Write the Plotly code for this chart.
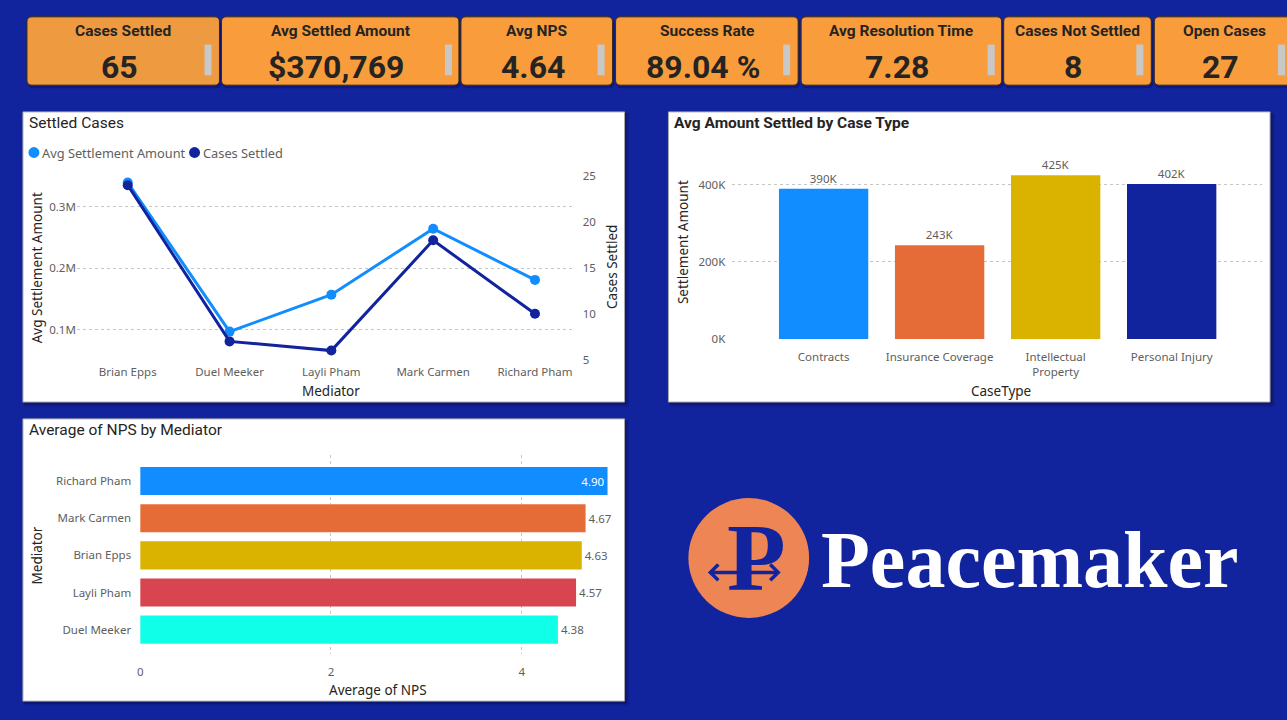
import plotly.graph_objects as go

# ---------------- data ----------------
kpi_titles = ["Cases Settled", "Avg Settled Amount", "Avg NPS", "Success Rate",
              "Avg Resolution Time", "Cases Not Settled", "Open Cases"]
kpi_values = ["65", "$370,769", "4.64", "89.04 %", "7.28", "8", "27"]

mediators = ["Brian Epps", "Duel Meeker", "Layli Pham", "Mark Carmen", "Richard Pham"]
avg_settlement = [339000, 97000, 157000, 264000, 181000]
cases_settled = [24, 7, 6, 18, 10]
left_tick_vals = [100000, 200000, 300000]
left_tick_text = ["0.1M", "0.2M", "0.3M"]
right_tick_vals = [5, 10, 15, 20, 25]

case_types = ["Contracts", "Insurance Coverage", "Intellectual Property", "Personal Injury"]
case_type_labels = ["Contracts", "Insurance Coverage", "Intellectual<br>Property", "Personal Injury"]
avg_amount = [390000, 243000, 425000, 402000]
amount_labels = ["390K", "243K", "425K", "402K"]
amount_tick_vals = [0, 200000, 400000]
amount_tick_text = ["0K", "200K", "400K"]

nps_mediators = ["Richard Pham", "Mark Carmen", "Brian Epps", "Layli Pham", "Duel Meeker"]
nps_values = [4.90, 4.67, 4.63, 4.57, 4.38]
nps_tick_vals = [0, 2, 4]

# ---------------- geometry helpers ----------------
W, H = 1287, 720
def X(px): return px / W
def Y(py): return 1 - py / H

BG = "#12239E"
LIGHT = "#118DFF"
DARK = "#12239E"
TICK = "#605E5C"
TXT = "#252423"
GRID = "#C8C6C4"
TFONT = "Noto Sans, Open Sans, sans-serif"
HFONT = "Roboto, sans-serif"

def rrect(x0, y0, x1, y1, r):
    return (f"M {X(x0+r)},{Y(y0)} L {X(x1-r)},{Y(y0)} Q {X(x1)},{Y(y0)} {X(x1)},{Y(y0+r)} "
            f"L {X(x1)},{Y(y1-r)} Q {X(x1)},{Y(y1)} {X(x1-r)},{Y(y1)} "
            f"L {X(x0+r)},{Y(y1)} Q {X(x0)},{Y(y1)} {X(x0)},{Y(y1-r)} "
            f"L {X(x0)},{Y(y0+r)} Q {X(x0)},{Y(y0)} {X(x0+r)},{Y(y0)} Z")

fig = go.Figure()

# ---------------- line chart ----------------
fig.add_trace(go.Scatter(x=mediators, y=avg_settlement, mode="lines+markers",
                         line=dict(color=LIGHT, width=3), marker=dict(size=10, color=LIGHT),
                         xaxis="x", yaxis="y", showlegend=False))
fig.add_trace(go.Scatter(x=mediators, y=cases_settled, mode="lines+markers",
                         line=dict(color=DARK, width=3), marker=dict(size=10, color=DARK),
                         xaxis="x", yaxis="y2", showlegend=False))

# ---------------- column chart ----------------
fig.add_trace(go.Bar(x=case_types, y=avg_amount, text=amount_labels, textposition="outside",
                     textfont=dict(family=TFONT, size=11.5, color=TICK),
                     marker=dict(color=[LIGHT, "#E66C37", "#D9B300", DARK], line=dict(width=0)),
                     width=0.77, cliponaxis=False, xaxis="x2", yaxis="y3", showlegend=False))

# ---------------- NPS bar chart ----------------
nps_text = [f"{v:.2f}" for v in nps_values]
fig.add_trace(go.Bar(y=nps_mediators, x=nps_values, orientation="h", text=nps_text,
                     textposition=["inside", "outside", "outside", "outside", "outside"],
                     insidetextanchor="end",
                     insidetextfont=dict(family=TFONT, size=11.5, color="white"),
                     outsidetextfont=dict(family=TFONT, size=11.5, color=TICK),
                     marker=dict(color=[LIGHT, "#E66C37", "#D9B300", "#D64550", "#10FFE8"],
                                 line=dict(width=0)),
                     width=0.755, cliponaxis=False, xaxis="x3", yaxis="y4", showlegend=False))

tickfont = dict(family=TFONT, size=11.5, color=TICK)

fig.update_layout(
    width=W, height=H, margin=dict(l=0, r=0, t=0, b=0),
    paper_bgcolor=BG, plot_bgcolor="rgba(0,0,0,0)",
    xaxis=dict(domain=[X(74), X(572)], anchor="y", range=[-0.5, 4.38],
               showgrid=False, zeroline=False, showline=False, ticks="",
               tickfont=tickfont, ticklabelstandoff=-1),
    yaxis=dict(domain=[Y(368), Y(165)], anchor="x", range=[43730, 370100],
               tickvals=left_tick_vals, ticktext=left_tick_text,
               showgrid=True, gridcolor=GRID, griddash="dot", gridwidth=1,
               zeroline=False, showline=False, ticks="", tickfont=tickfont),
    yaxis2=dict(overlaying="y", side="right", anchor="x", range=[4.4935, 26.37],
                tickvals=right_tick_vals, showgrid=False, zeroline=False, showline=False,
                ticks="", tickfont=tickfont, ticklabelstandoff=8),
    xaxis2=dict(domain=[X(731), X(1262)], anchor="y3", range=[-0.787, 3.779],
                tickvals=case_types, ticktext=case_type_labels,
                showgrid=False, zeroline=False, showline=False, ticks="",
                tickfont=tickfont, ticklabelstandoff=10),
    yaxis3=dict(domain=[Y(342.3), Y(150)], anchor="x2", range=[0, 494300],
                tickvals=amount_tick_vals, ticktext=amount_tick_text,
                showgrid=True, gridcolor=GRID, griddash="dot", gridwidth=1,
                zeroline=False, showline=False, ticks="", tickfont=tickfont,
                ticklabelstandoff=6),
    xaxis3=dict(domain=[X(137.5), X(615.5)], anchor="y4", range=[0, 5.0],
                tickvals=nps_tick_vals, showgrid=True, gridcolor=GRID, griddash="dot",
                zeroline=False, showline=False, ticks="", tickfont=tickfont,
                ticklabelstandoff=10),
    yaxis4=dict(domain=[Y(660), Y(459)], anchor="x3", type="category",
                categoryorder="array", categoryarray=nps_mediators, range=[4.645, -0.715],
                showgrid=False, zeroline=False, showline=False, ticks="",
                tickfont=tickfont, ticklabelstandoff=8),
)

shapes = []
annotations = []

# ---------------- panels (with soft shadow) ----------------
for (x0, y0, x1, y1) in [(20, 113, 623, 406), (667, 113, 1270, 406), (20, 423, 623, 708)]:
    for k, a in [(5, 0.10), (3, 0.15), (1.5, 0.2)]:
        shapes.append(dict(type="rect", xref="paper", yref="paper", x0=X(x0 + 1), x1=X(x1 + k),
                           y0=Y(y1 + k), y1=Y(y0 + 1), fillcolor=f"rgba(0,0,20,{a})",
                           line=dict(width=0), layer="below"))
    shapes.append(dict(type="rect", xref="paper", yref="paper", x0=X(x0), x1=X(x1),
                       y0=Y(y1), y1=Y(y0), fillcolor="white",
                       line=dict(color="#A9A9A9", width=1), layer="below"))

# ---------------- KPI cards ----------------
card_x = [(24, 217), (219, 457), (459, 611), (614, 797), (800, 1001), (1003, 1151), (1154, 1295)]
card_fill = ["#EE9A41", "#F99D3C", "#F99D3C", "#F99D3C", "#F99D3C", "#F99D3C", "#F99D3C"]
grey_x = [202, 443, 596, 782, 987, 1136, 1278]
for i, (x0, x1) in enumerate(card_x):
    shapes.append(dict(type="path", xref="paper", yref="paper", path=rrect(x0 + 1, 19, x1 + 2, 89, 5),
                       fillcolor="rgba(0,0,20,0.25)", line=dict(width=0)))
    shapes.append(dict(type="path", xref="paper", yref="paper", path=rrect(x0, 17, x1, 86, 5),
                       fillcolor=card_fill[i], line=dict(color="#3A2A12", width=1)))
    shapes.append(dict(type="rect", xref="paper", yref="paper", x0=X(grey_x[i]),
                       x1=X(grey_x[i] + 7), y0=Y(76), y1=Y(45),
                       fillcolor="#C8C8C8", line=dict(width=0)))
    cx = (x0 + x1) / 2
    annotations.append(dict(xref="paper", yref="paper", x=X(cx), y=Y(31), text=f"<b>{kpi_titles[i]}</b>",
                            showarrow=False, xanchor="center", yanchor="middle",
                            font=dict(family=HFONT, size=15.5, color=TXT)))
    annotations.append(dict(xref="paper", yref="paper", x=X(cx - 4), y=Y(68), text=f"<b>{kpi_values[i]}</b>",
                            showarrow=False, xanchor="center", yanchor="middle",
                            font=dict(family=HFONT, size=32, color=TXT)))

# ---------------- chart titles / axis titles ----------------
def ann(x, y, text, size, color, family=TFONT, xanchor="left", angle=0):
    annotations.append(dict(xref="paper", yref="paper", x=X(x), y=Y(y), text=text,
                            showarrow=False, xanchor=xanchor, yanchor="middle", textangle=angle,
                            font=dict(family=family, size=size, color=color)))

ann(24, 124, "Settled Cases", 15.5, TXT, HFONT)
ann(671, 124, "<b>Avg Amount Settled by Case Type</b>", 15.5, TXT, HFONT)
ann(24, 434, "Average of NPS by Mediator", 15.5, TXT, HFONT)

ann(34, 270, "Avg Settlement Amount", 13.5, TXT, xanchor="center", angle=-90)
ann(611, 270, "Cases Settled", 13.5, TXT, xanchor="center", angle=-90)
ann(329, 395, "Mediator", 13.5, TXT, xanchor="center")
ann(681, 244, "Settlement Amount", 13.5, TXT, xanchor="center", angle=-90)
ann(1000, 395, "CaseType", 13.5, TXT, xanchor="center")
ann(34, 561, "Mediator", 13.5, TXT, xanchor="center", angle=-90)
ann(376, 697, "Average of NPS", 13.5, TXT, xanchor="center")

# legend
for cx, col, label in [(31, LIGHT, "Avg Settlement Amount"), (192, DARK, "Cases Settled")]:
    shapes.append(dict(type="circle", xref="paper", yref="paper", x0=X(cx - 5.5), x1=X(cx + 5.5),
                       y0=Y(159.5), y1=Y(148.5), fillcolor=col, line=dict(width=0)))
    ann(cx + 6, 154, label, 12.8, TICK)

# ---------------- logo ----------------
ORANGE = "#EE8554"
shapes.append(dict(type="circle", xref="paper", yref="paper", x0=X(687), x1=X(808),
                   y0=Y(624), y1=Y(503), fillcolor=ORANGE, line=dict(width=0)))
annotations.append(dict(xref="paper", yref="paper", x=X(755), y=Y(563), text="<b>P</b>",
                        showarrow=False, xanchor="center", yanchor="middle",
                        font=dict(family="Liberation Serif, DejaVu Serif, serif", size=96, color=BG)))
# double arrow
shapes.append(dict(type="line", xref="paper", yref="paper", x0=X(709), x1=X(777), y0=Y(578), y1=Y(578),
                   line=dict(color=BG, width=3.5)))
shapes.append(dict(type="path", xref="paper", yref="paper",
                   path=f"M {X(717)},{Y(570)} L {X(709)},{Y(578)} L {X(717)},{Y(586)}",
                   line=dict(color=BG, width=3.5)))
shapes.append(dict(type="path", xref="paper", yref="paper",
                   path=f"M {X(769)},{Y(570)} L {X(777)},{Y(578)} L {X(769)},{Y(586)}",
                   line=dict(color=BG, width=3.5)))
shapes.append(dict(type="line", xref="paper", yref="paper", x0=X(737), x1=X(748), y0=Y(577), y1=Y(577),
                   line=dict(color=ORANGE, width=2)))
annotations.append(dict(xref="paper", yref="paper", x=X(818), y=Y(565), text="<b>Peacemaker</b>",
                        showarrow=False, xanchor="left", yanchor="middle",
                        font=dict(family="Liberation Serif, DejaVu Serif, serif", size=80, color="white")))

fig.update_layout(shapes=shapes, annotations=annotations)
fig.write_html("out.html", config={"displayModeBar": False},
               post_script="document.body.style.margin='0';document.body.style.overflow='hidden';"
                           "document.documentElement.style.overflow='hidden';")
